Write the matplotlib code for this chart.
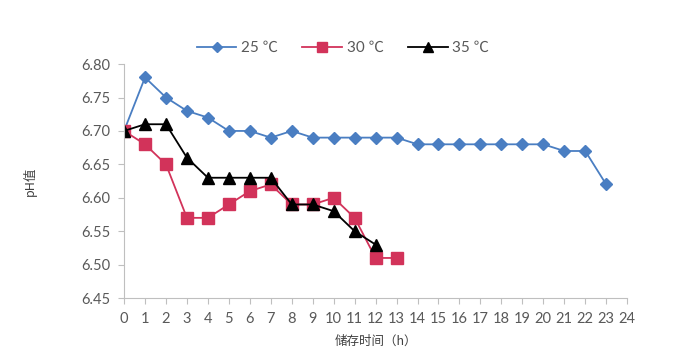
import matplotlib
matplotlib.use("Agg")
from matplotlib import pyplot as plt

plt.rcParams['font.family'] = ['Lato', 'Noto Sans CJK SC', 'DejaVu Sans']

# data
hours_25 = list(range(0, 24))
ph_25 = [6.70, 6.78, 6.75, 6.73, 6.72, 6.70, 6.70, 6.69, 6.70, 6.69, 6.69, 6.69,
         6.69, 6.69, 6.68, 6.68, 6.68, 6.68, 6.68, 6.68, 6.68, 6.67, 6.67, 6.62]
hours_30 = list(range(0, 14))
ph_30 = [6.70, 6.68, 6.65, 6.57, 6.57, 6.59, 6.61, 6.62, 6.59, 6.59, 6.60, 6.57, 6.51, 6.51]
hours_35 = list(range(0, 13))
ph_35 = [6.70, 6.71, 6.71, 6.66, 6.63, 6.63, 6.63, 6.63, 6.59, 6.59, 6.58, 6.55, 6.53]
labels = ['25 ℃', '30 ℃', '35 ℃']
yticks = [6.45, 6.50, 6.55, 6.60, 6.65, 6.70, 6.75, 6.80]

fig = plt.figure(figsize=(6.93, 3.6), dpi=100)
ax = fig.add_axes([0.179, 0.172, 0.726, 0.650])

ax.plot(hours_25, ph_25, color='#4A7EC2', marker='D', markersize=6.5, lw=1.3, label=labels[0])
ax.plot(hours_30, ph_30, color='#D2335A', marker='s', markersize=8, lw=1.3, label=labels[1])
ax.plot(hours_35, ph_35, color='black', marker='^', markersize=8.5, lw=1.3, label=labels[2])

ax.set_xlim(0, 24)
ax.set_ylim(6.45, 6.80)
ax.set_xticks(range(0, 25))
ax.set_yticks(yticks)
ax.set_yticklabels(['%.2f' % v for v in yticks])

for s in ['top', 'right']:
    ax.spines[s].set_visible(False)
for s in ['left', 'bottom']:
    ax.spines[s].set_color('#BFBFBF')
ax.tick_params(axis='both', colors='#BFBFBF', labelcolor='#595959', labelsize=10.5, length=4)
ax.tick_params(axis='x', pad=6)
ax.tick_params(axis='y', pad=6)

ax.set_xlabel('储存时间（h）', family=['Noto Sans CJK SC'], fontsize=9, color='#404040', labelpad=6)
ax.set_ylabel('pH值', family=['Noto Sans CJK SC'], fontsize=9, color='#404040', labelpad=32)

ax.legend(loc='lower center', bbox_to_anchor=(0.435, 1.0), ncol=3, frameon=False,
          fontsize=11, labelcolor='#595959', handlelength=2.6, columnspacing=1.6,
          handletextpad=0.3, borderaxespad=0.2, markerscale=0.85)

fig.savefig('out.png', dpi=100)
